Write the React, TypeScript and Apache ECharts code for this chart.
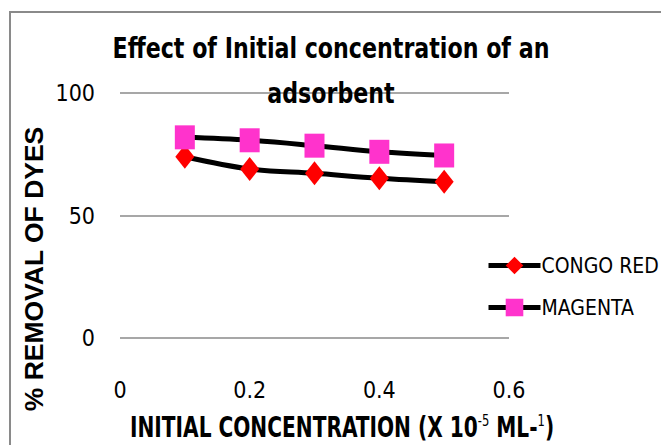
import React, { useEffect, useRef } from "react";
import * as echarts from "echarts";

const concentrations = [0.1, 0.2, 0.3, 0.4, 0.5];
const congoRed = [74.0, 69.0, 67.2, 65.2, 63.8];
const magenta = [81.9, 80.7, 78.5, 76.0, 74.5];
const seriesNames = ["CONGO RED", "MAGENTA"];
const titleLines = ["Effect of Initial concentration of an", "adsorbent"];

const NARROW = "'Liberation Sans Narrow', 'DejaVu Sans Condensed', 'Noto Sans', sans-serif";

export default function App() {
  const ref = useRef<HTMLDivElement>(null);
  useEffect(() => {
    document.body.style.margin = "0";
    if (!ref.current) return;
    const chart = echarts.init(ref.current, null, { renderer: "svg" });
    const pair = (ys: number[]) => concentrations.map((x, i) => [x, ys[i]]);
    chart.setOption({
      animation: false,
      backgroundColor: "#fff",
      grid: { left: 120, right: 152, top: 93, bottom: 107 },
      xAxis: {
        type: "value",
        min: 0,
        max: 0.6,
        interval: 0.2,
        axisLine: { show: false },
        axisTick: { show: false },
        splitLine: { show: false },
        axisLabel: { margin: 40, fontFamily: NARROW, fontSize: 23, color: "#000" },
      },
      yAxis: {
        type: "value",
        min: 0,
        max: 100,
        interval: 50,
        axisLine: { show: false },
        axisTick: { show: false },
        splitLine: { show: true, lineStyle: { color: "#8a8a8a", width: 1.5 } },
        axisLabel: { margin: 25, fontFamily: NARROW, fontSize: 23, color: "#000" },
      },
      legend: {
        orient: "vertical",
        left: 481,
        top: 250,
        itemWidth: 52,
        itemHeight: 22,
        itemGap: 21,
        lineStyle: { width: 5, color: "#000" },
        textStyle: { fontFamily: NARROW, fontSize: 21, color: "#000", padding: [0, 0, 0, -4] },
        data: seriesNames,
      },
      series: [
        {
          name: seriesNames[0],
          type: "line",
          data: pair(congoRed),
          smooth: 0.35,
          symbol: "diamond",
          symbolSize: [19, 24],
          lineStyle: { color: "#000", width: 5 },
          itemStyle: { color: "#ff0000" },
          z: 3,
        },
        {
          name: seriesNames[1],
          type: "line",
          data: pair(magenta),
          smooth: 0.35,
          symbol: "rect",
          symbolSize: [20, 24],
          lineStyle: { color: "#000", width: 5 },
          itemStyle: { color: "#ff33cc" },
          z: 4,
        },
      ],
      graphic: [
        {
          type: "rect",
          shape: { x: 10, y: 12, width: 700, height: 500 },
          style: { fill: "none", stroke: "#8a8a8a", lineWidth: 2 },
          silent: true,
        },
        {
          type: "text",
          x: 331,
          y: 48,
          scaleX: 0.88,
          style: {
            text: titleLines[0],
            fontFamily: NARROW,
            fontWeight: "bold",
            fontSize: 28,
            fill: "#000",
            align: "center",
            verticalAlign: "middle",
          },
        },
        {
          type: "text",
          x: 331,
          y: 93,
          z: 10,
          scaleX: 0.88,
          style: {
            text: titleLines[1],
            fontFamily: NARROW,
            fontWeight: "bold",
            fontSize: 28,
            fill: "#000",
            align: "center",
            verticalAlign: "middle",
          },
        },
        {
          type: "text",
          x: 34,
          y: 269,
          rotation: Math.PI / 2,
          scaleX: 1.06,
          style: {
            text: "% REMOVAL OF DYES",
            fontFamily: "'Liberation Sans', 'DejaVu Sans', sans-serif",
            fontWeight: "bold",
            fontSize: 25,
            fill: "#000",
            align: "center",
            verticalAlign: "middle",
          },
        },
        {
          type: "text",
          x: 342,
          y: 427,
          scaleX: 0.8,
          style: {
            text: "INITIAL CONCENTRATION (X 10{sup|-5} ML-{sup|1})",
            fontFamily: NARROW,
            fontWeight: "bold",
            fontSize: 28,
            fill: "#000",
            align: "center",
            verticalAlign: "middle",
            rich: {
              sup: {
                fontFamily: NARROW,
                fontSize: 16,
                fill: "#000",
                verticalAlign: "top",
                padding: [0, 0, 14, 0],
              },
            },
          },
        },
      ],
    });
    return () => chart.dispose();
  }, []);
  return <div ref={ref} style={{ width: 661, height: 445 }} />;
}
